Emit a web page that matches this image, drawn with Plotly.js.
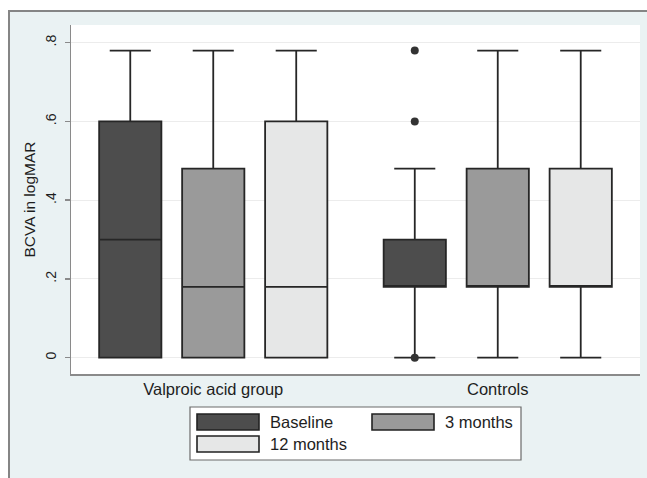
<!DOCTYPE html>
<html>
<head>
<meta charset="utf-8">
<script src="https://cdn.plot.ly/plotly-3.0.1.min.js"></script>
<style>
  html, body { margin: 0; padding: 0; background: #ffffff; width: 647px; height: 478px; overflow: hidden; }
  #frame { position: absolute; left: 8px; top: 10px; border-left: 2px solid #858585; border-top: 2px solid #858585; background: #EAF2F3; }
  #chart { width: 637px; height: 466px; }
</style>
</head>
<body>
<div id="frame"><div id="chart"></div></div>
<script>
// Groups on the x axis
const groups = ["Valproic acid group", "Controls"];

// Time points (one box trace each)
const seriesNames = ["Baseline", "3 months", "12 months"];
const seriesColors = ["#4d4d4d", "#9a9a9a", "#e6e7e7"];

// Box statistics (BCVA in logMAR) per time point, ordered as in `groups`
const lowerFence = {
  "Baseline":  [0, 0],
  "3 months":  [0, 0],
  "12 months": [0, 0]
};
const q1 = {
  "Baseline":  [0, 0.18],
  "3 months":  [0, 0.18],
  "12 months": [0, 0.18]
};
const median = {
  "Baseline":  [0.30, 0.18],
  "3 months":  [0.18, 0.18],
  "12 months": [0.18, 0.18]
};
const q3 = {
  "Baseline":  [0.60, 0.30],
  "3 months":  [0.48, 0.48],
  "12 months": [0.60, 0.48]
};
const upperFence = {
  "Baseline":  [0.78, 0.48],
  "3 months":  [0.78, 0.78],
  "12 months": [0.78, 0.78]
};
// Outside values plotted as dots: [series, group, value]
const outsideSeries = ["Baseline", "Baseline", "Baseline"];
const outsideGroup = ["Controls", "Controls", "Controls"];
const outsideValue = [0.78, 0.60, 0];

// Y axis ticks
const yTickVals = [0, 0.2, 0.4, 0.6, 0.8];
const yTickText = ["0", ".2", ".4", ".6", ".8"];

const FONT = "Liberation Sans, Arial, sans-serif";
const INK = "#1e1e1e";

// Grouped box layout parameters
const BOXGAP = 0.125, BOXGROUPGAP = 0.25;

const traces = seriesNames.map((name, i) => ({
  type: "box",
  name: name,
  x: groups,
  q1: q1[name],
  median: median[name],
  q3: q3[name],
  lowerfence: lowerFence[name],
  upperfence: upperFence[name],
  boxpoints: false,
  fillcolor: seriesColors[i],
  line: { color: "#262626", width: 1.8 },
  whiskerwidth: 0.66,
  showlegend: false,
  hoverinfo: "skip"
}));

// Outside values on an overlaid linear axis aligned with the category axis
// (category i sits at i; each series occupies a slot of (1 - boxgap) / nSeries)
const slot = (1 - BOXGAP) / seriesNames.length;
const slotOffset = (name) => (seriesNames.indexOf(name) - (seriesNames.length - 1) / 2) * slot;
traces.push({
  type: "scatter", mode: "markers",
  xaxis: "x2", yaxis: "y",
  x: outsideGroup.map((g, k) => groups.indexOf(g) + slotOffset(outsideSeries[k])),
  y: outsideValue,
  marker: { color: "#333333", size: 8 },
  showlegend: false, hoverinfo: "skip"
});

// Plot area geometry in pixels (inside the chart div)
const W = 637, H = 466;
const M = { l: 61, r: 7, t: 13, b: 104 };
const PW = W - M.l - M.r, PH = H - M.t - M.b;
const px2x = (px) => (px - M.l) / PW;
const px2y = (py) => (H - M.b - py) / PH;

// Legend drawn as shapes + text so that its swatches are wide rectangles
const shapes = [];
const annotations = [];
shapes.push({
  type: "rect", xref: "paper", yref: "paper",
  x0: px2x(180), x1: px2x(511), y0: px2y(395), y1: px2y(448),
  fillcolor: "#ffffff", line: { color: "#6a6a6a", width: 1.2 }, layer: "above"
});
const legendSlots = [
  { sx: 187, sy: 402, tx: 258 },
  { sx: 362, sy: 402, tx: 433 },
  { sx: 187, sy: 424, tx: 258 }
];
seriesNames.forEach((name, i) => {
  const s = legendSlots[i];
  shapes.push({
    type: "rect", xref: "paper", yref: "paper",
    x0: px2x(s.sx), x1: px2x(s.sx + 62), y0: px2y(s.sy), y1: px2y(s.sy + 16),
    fillcolor: seriesColors[i], line: { color: "#222222", width: 1.6 }, layer: "above"
  });
  annotations.push({
    xref: "paper", yref: "paper", x: px2x(s.tx), y: px2y(s.sy + 8),
    xanchor: "left", yanchor: "middle", showarrow: false,
    text: name, font: { family: FONT, size: 16.5, color: INK }
  });
});

const layout = {
  width: W, height: H,
  margin: M,
  paper_bgcolor: "rgba(0,0,0,0)",
  plot_bgcolor: "#ffffff",
  boxmode: "group",
  boxgap: BOXGAP,
  boxgroupgap: BOXGROUPGAP,
  showlegend: false,
  font: { family: FONT, color: INK },
  xaxis: {
    type: "category",
    range: [-0.5, groups.length - 0.5],
    showline: true, linecolor: "#8a8a8a", linewidth: 1.5,
    ticks: "", showgrid: false, zeroline: false,
    tickfont: { family: FONT, size: 16.5, color: INK }
  },
  xaxis2: {
    overlaying: "x",
    range: [-0.5, groups.length - 0.5],
    visible: false
  },
  yaxis: {
    range: [-0.0414, 0.845],
    tickvals: yTickVals, ticktext: yTickText,
    tickangle: -90,
    ticks: "outside", ticklen: 5, tickwidth: 1.5, tickcolor: "#8a8a8a",
    ticklabelstandoff: 3,
    showline: true, linecolor: "#8a8a8a", linewidth: 1.5,
    showgrid: true, gridcolor: "#ececec", gridwidth: 1,
    zeroline: false,
    tickfont: { family: FONT, size: 14, color: INK },
    title: { text: "BCVA in logMAR", font: { family: FONT, size: 15.5, color: INK }, standoff: 3 }
  },
  shapes: shapes,
  annotations: annotations
};

Plotly.newPlot("chart", traces, layout, { displayModeBar: false, staticPlot: true });
</script>
</body>
</html>
